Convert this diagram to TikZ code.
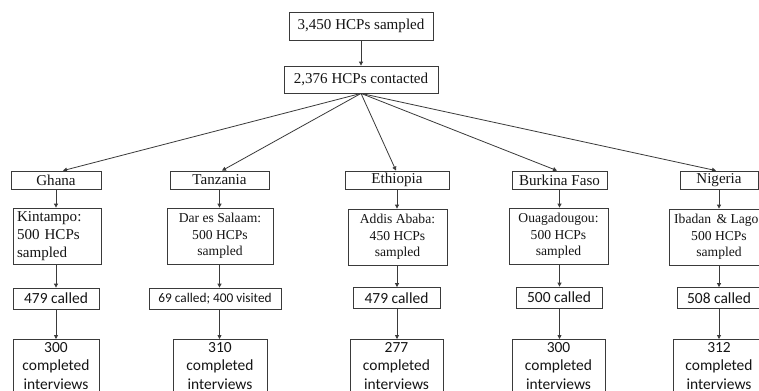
\documentclass[tikz,border=0pt]{standalone}
\usepackage{fontspec}
\setmainfont{Liberation Serif}
\newfontfamily\calfont{Carlito}
\usetikzlibrary{arrows.meta}
\newdimen\pxu \pxu=0.75pt
\definecolor{linec}{HTML}{3A3A3A}
\definecolor{textc}{HTML}{151515}
\tikzset{
  box/.style={draw=linec, line width=0.6pt, text=textc, inner xsep=2.25pt, inner ysep=0pt, align=center},
  serifbig/.style={font=\fontsize{11.3pt}{13.5pt}\selectfont},
  serifsmall/.style={font=\fontsize{10.2pt}{12.4pt}\selectfont},
  sansbig/.style={font=\calfont\fontsize{11.6pt}{13.9pt}\selectfont},
  sanssmall/.style={font=\calfont\fontsize{10pt}{12pt}\selectfont},
  arr/.style={draw=linec, line width=0.6pt, -{Triangle[length=3pt,width=3pt]}},
}
\begin{document}
\begin{tikzpicture}[x=0.75pt,y=-0.75pt]
\useasboundingbox (0,0) rectangle (759,390);
\clip (0,0) rectangle (759,390);
\fill[white] (0,0) rectangle (759,390);

% top
\node[box, serifbig, minimum width=144\pxu, minimum height=28\pxu] (sampled) at (361,26) {3,450 HCPs sampled};
\node[box, serifbig, minimum width=154\pxu, minimum height=27\pxu] (contacted) at (361,79.5) {2,376 HCPs contacted};

% countries
\node[box, serifbig, minimum width=90\pxu, minimum height=18\pxu] (ghana) at (56,180) {Ghana};
\node[box, serifbig, minimum width=99\pxu, minimum height=18\pxu] (tanzania) at (219.5,180) {Tanzania};
\node[box, serifbig, minimum width=104\pxu, minimum height=18\pxu] (ethiopia) at (397,180) {Ethiopia};
\node[box, serifbig, minimum width=95\pxu, minimum height=18\pxu] (burkina) at (559.5,180) {Burkina Faso};
\node[box, serifbig, minimum width=78\pxu, minimum height=18\pxu] (nigeria) at (719,180) {Nigeria};

% cities
\node[box, serifbig, align=left, text width=80\pxu, inner xsep=3pt, minimum height=56\pxu] (kintampo) at (57,236) {Kintampo:\\500 HCPs\\sampled};
\node[box, serifsmall, minimum width=106\pxu, minimum height=56\pxu] (dar) at (220,236) {Dar es Salaam:\\500 HCPs\\sampled};
\node[box, serifsmall, minimum width=99\pxu, minimum height=56\pxu] (addis) at (397.5,237) {Addis Ababa:\\450 HCPs\\sampled};
\node[box, serifsmall, minimum width=99\pxu, minimum height=56\pxu] (ouaga) at (558.5,236) {Ouagadougou:\\500 HCPs\\sampled};
\node[box, serifsmall, minimum width=100\pxu, minimum height=56\pxu] (ibadan) at (719,237) {Ibadan\hspace{1.5pt}\ \& Lagos\\500 HCPs\\sampled};

% called
\node[box, sansbig, minimum width=86\pxu, minimum height=21\pxu] (ghcall) at (56,298.5) {479 called};
\node[box, sanssmall, minimum width=132\pxu, minimum height=21\pxu] (tzcall) at (215,298.5) {69 called; 400 visited};
\node[box, sansbig, minimum width=87\pxu, minimum height=21\pxu] (etcall) at (396.5,298) {479 called};
\node[box, sansbig, minimum width=86\pxu, minimum height=21\pxu] (bfcall) at (559,297.5) {500 called};
\node[box, sansbig, minimum width=84\pxu, minimum height=21\pxu] (ngcall) at (719,298) {508 called};

% completed
\node[box, sansbig, anchor=north, inner ysep=2.25pt, minimum width=86\pxu] (ghdone) at (56,339) {300\\completed\\interviews};
\node[box, sansbig, anchor=north, inner ysep=2.25pt, minimum width=94\pxu] (tzdone) at (220,339) {310\\completed\\interviews};
\node[box, sansbig, anchor=north, inner ysep=2.25pt, minimum width=93\pxu] (etdone) at (396.5,339) {277\\completed\\interviews};
\node[box, sansbig, anchor=north, inner ysep=2.25pt, minimum width=93\pxu] (bfdone) at (558.5,339) {300\\completed\\interviews};
\node[box, sansbig, anchor=north, inner ysep=2.25pt, minimum width=92\pxu] (ngdone) at (719,339) {312\\completed\\interviews};

% connectors
\draw[arr] (sampled.south) -- (contacted.north);
\draw[arr] (contacted.south) -- ([xshift=5.25pt]ghana.north);
\draw[arr] (contacted.south) -- ([xshift=1.875pt]tanzania.north);
\draw[arr] (contacted.south) -- ([xshift=-0.75pt]ethiopia.north);
\draw[arr] (contacted.south) -- ([xshift=-1.875pt]burkina.north);
\draw[arr] (contacted.south) -- ([xshift=-2.25pt]nigeria.north);

\foreach \c/\a/\b/\d in {ghana/kintampo/ghcall/ghdone, tanzania/dar/tzcall/tzdone, ethiopia/addis/etcall/etdone, burkina/ouaga/bfcall/bfdone, nigeria/ibadan/ngcall/ngdone}{
  \draw[arr] (\c.south) -- (\a.north -| \c.south);
  \draw[arr] (\a.south -| \c.south) -- (\b.north -| \c.south);
  \draw[arr] (\b.south -| \c.south) -- (\d.north -| \c.south);
}
\end{tikzpicture}
\end{document}
